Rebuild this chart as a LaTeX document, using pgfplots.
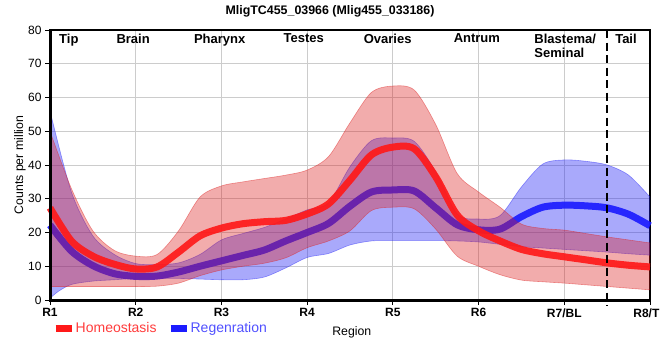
\documentclass[border=0pt]{standalone}
\usepackage{fontspec}
\setmainfont{Liberation Sans}
\usepackage{pgfplots}
\pgfplotsset{compat=1.18}
\usepgfplotslibrary{fillbetween}
\definecolor{hcol}{RGB}{220,30,30}
\definecolor{rcol}{RGB}{30,30,245}
\definecolor{hline}{RGB}{255,25,25}
\definecolor{rline}{RGB}{28,28,255}
\definecolor{htext}{RGB}{255,60,60}
\definecolor{rtext}{RGB}{80,80,255}
\begin{document}
\begin{tikzpicture}
\begin{axis}[
  width=600pt, height=270pt, scale only axis,
  xmin=0, xmax=7, ymin=0, ymax=80,
  xtick={0,...,7}, xticklabels={R1,R2,R3,R4,R5,R6,R7/BL,R8/TL},
  ytick={0,10,...,80},
  /pgf/number format/assume math mode=true,
  xticklabel style={font=\bfseries\fontsize{12}{14}\selectfont},
  yticklabel style={font=\fontsize{12}{14}\selectfont},
  grid=major, grid style={draw=black!20, line width=0.9pt},
  axis line style={black, line width=1.3pt},
  tick align=outside, xtick pos=bottom, ytick pos=left,
  major tick length=5pt, tick style={black, line width=1pt},
  title={MligTC455\_03966 (Mlig455\_033186)},
  title style={at={(axis description cs:0.4667,1)}, anchor=south, yshift=3pt, font=\bfseries\fontsize{12.4}{14}\selectfont},
  xlabel={Region},
  xlabel style={at={(axis description cs:0.503,0)}, anchor=center, yshift=-32pt, font=\fontsize{12.3}{14}\selectfont},
  ylabel={Counts per million},
  ylabel style={at={(axis description cs:0,0.5)}, anchor=center, yshift=30pt, font=\fontsize{12.3}{14}\selectfont},
  reverse legend,
  legend style={at={(axis description cs:0,0)}, anchor=north west, xshift=2pt, yshift=-22pt, draw=none, fill=none,
    font=\fontsize{14}{16}\selectfont, legend columns=2, inner sep=0pt,
    nodes={inner sep=0.5pt},
    /tikz/every even column/.append style={column sep=10pt}},
  legend image code/.code={\draw[#1, line width=7pt, opacity=1] (0pt,0pt) -- (16pt,0pt);},
  clip=false,
]
% ---- Regeneration band ----
\addplot[name path=ru, draw=rcol, draw opacity=0.45, line width=0.6pt, smooth, forget plot] coordinates {
(0,56) (0.25,32) (0.5,19) (0.75,13.5) (1.0,10.8) (1.25,10.5) (1.5,11) (1.75,13.5) (2.0,17.8) (2.25,19.7) (2.5,21.5) (2.75,24) (3.0,26.7) (3.25,28.8) (3.5,39.5) (3.75,47.2) (4.0,48) (4.25,47) (4.5,38) (4.75,25.5) (5.0,24) (5.25,25) (5.5,33.5) (5.75,40.3) (6.0,41.5) (6.25,41.1) (6.5,40) (6.75,37) (7.0,30.5)};
\addplot[name path=rl, draw=rcol, draw opacity=0.45, line width=0.6pt, smooth, forget plot] coordinates {
(0,0.5) (0.1,2.6) (0.25,4.6) (0.5,5.6) (0.75,6) (1.0,6.4) (1.25,6.4) (1.5,6.4) (1.75,6.2) (2.0,6) (2.25,6) (2.5,6.8) (2.75,9.5) (3.0,12.6) (3.25,13.8) (3.5,16.3) (3.75,17.5) (4.0,17.6) (4.25,17.6) (4.5,17.6) (4.75,17.5) (5.0,17.2) (5.25,16.5) (5.5,15.8) (5.75,15.4) (6.0,15) (6.25,14.6) (6.5,14.2) (6.75,13.7) (7.0,13.3)};
\addplot[rcol, fill opacity=0.38, draw=none, forget plot] fill between[of=ru and rl, on layer=main];
% ---- Homeostasis band paths ----
\addplot[name path=hu, draw=hcol, draw opacity=0.45, line width=0.6pt, smooth, forget plot] coordinates {
(0,50) (0.25,33) (0.5,20.5) (0.75,14.7) (1.0,13) (1.25,13.5) (1.5,20.5) (1.75,30.5) (2.0,33.8) (2.25,35) (2.5,36) (2.75,37) (3.0,38.5) (3.25,42.5) (3.5,52.5) (3.75,61.5) (4.0,63.4) (4.25,62.2) (4.5,52) (4.75,37.5) (5.0,32) (5.25,27.5) (5.5,22.5) (5.75,21.2) (6.0,20.7) (6.25,19.7) (6.5,18.7) (6.75,17.8) (7.0,16.9)};
\addplot[name path=hl, draw=hcol, draw opacity=0.45, line width=0.6pt, smooth, forget plot] coordinates {
(0,4) (0.25,4) (0.5,4) (0.75,4) (1.0,4) (1.25,4.1) (1.5,5) (1.75,7.2) (2.0,8.9) (2.25,10) (2.5,10.9) (2.75,12.5) (3.0,15.5) (3.25,17.5) (3.5,20.5) (3.75,26.5) (4.0,27.5) (4.25,27) (4.5,21) (4.75,13) (5.0,10) (5.25,7.5) (5.5,5.9) (5.75,5.4) (6.0,5) (6.25,4.5) (6.5,4) (6.75,3.5) (7.0,3)};
% ---- Regeneration mean ----
\addplot[rline, line width=7pt, opacity=0.92, smooth] coordinates {
(0,22.2) (0.25,14.5) (0.5,10.2) (0.75,7.8) (1.0,7) (1.25,7.1) (1.5,8.3) (1.75,10) (2.0,11.6) (2.25,13.2) (2.5,14.8) (2.75,17.5) (3.0,20) (3.25,22.7) (3.5,27.8) (3.75,32) (4.0,32.6) (4.25,32.3) (4.5,27.3) (4.75,22.3) (5.0,20.8) (5.25,21) (5.5,24.7) (5.75,27.5) (6.0,28.1) (6.25,27.9) (6.5,27.3) (6.75,25.4) (7.0,22)};
\addlegendentry{\textcolor{rtext}{Regenration}}
% ---- Homeostasis band fill ----
\addplot[hcol, fill opacity=0.37, draw=none, forget plot] fill between[of=hu and hl, on layer=main];
% ---- Homeostasis mean ----
\addplot[hline, line width=7pt, opacity=0.92, smooth] coordinates {
(0,27.3) (0.25,17.5) (0.5,13) (0.75,10.6) (1.0,9.2) (1.25,9.8) (1.5,14.2) (1.75,19) (2.0,21.3) (2.25,22.6) (2.5,23.2) (2.75,23.6) (3.0,25.5) (3.25,28.5) (3.5,35.5) (3.75,43) (4.0,45.3) (4.25,44.8) (4.5,36.5) (4.75,25.2) (5.0,20.5) (5.25,17.5) (5.5,15) (5.75,13.7) (6.0,12.8) (6.25,11.9) (6.5,11) (6.75,10.3) (7.0,9.8)};
\addlegendentry{\textcolor{htext}{Homeostasis}}
% region labels
\node[anchor=north, inner sep=0pt, font=\bfseries\fontsize{13}{15}\selectfont] at (axis cs:0.22,79) {Tip};
\node[anchor=north, inner sep=0pt, font=\bfseries\fontsize{13}{15}\selectfont] at (axis cs:0.97,79) {Brain};
\node[anchor=north, inner sep=0pt, font=\bfseries\fontsize{13}{15}\selectfont] at (axis cs:1.98,79) {Pharynx};
\node[anchor=north, inner sep=0pt, font=\bfseries\fontsize{13}{15}\selectfont] at (axis cs:2.96,79) {Testes};
\node[anchor=north, inner sep=0pt, font=\bfseries\fontsize{13}{15}\selectfont] at (axis cs:3.94,79) {Ovaries};
\node[anchor=north, inner sep=0pt, font=\bfseries\fontsize{13}{15}\selectfont] at (axis cs:4.98,79) {Antrum};
\node[anchor=north west, inner sep=0pt, align=left, font=\bfseries\fontsize{13}{14.5}\selectfont] at (axis cs:5.65,79) {Blastema/\\Seminal};
\node[anchor=north, inner sep=0pt, font=\bfseries\fontsize{13}{15}\selectfont] at (axis cs:6.72,79) {Tail};
% separator and thick axes
\draw[black, line width=2.5pt, dash pattern=on 8pt off 4.5pt] (axis cs:6.5,80) -- (axis cs:6.5,-1.6);
\draw[black, line width=3pt] (rel axis cs:0,1) -- (rel axis cs:0,0) -- (rel axis cs:1,0);
\end{axis}
\pgfresetboundingbox
\useasboundingbox (-50pt,-60pt) rectangle (610pt,300pt);
\end{tikzpicture}
\end{document}
